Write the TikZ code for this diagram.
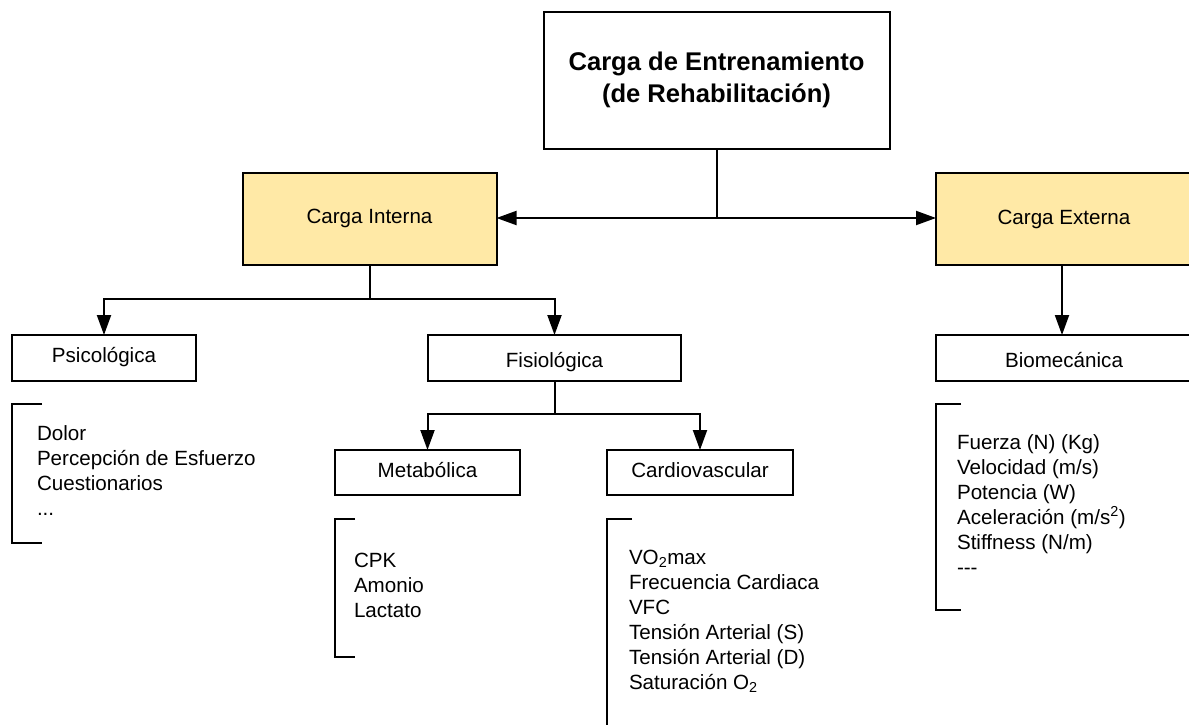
\documentclass[tikz,border=0pt]{standalone}
\usepackage{fontspec}
\setmainfont{Liberation Sans}
\usetikzlibrary{arrows.meta}
\definecolor{loadfill}{RGB}{255,233,166}
\begin{document}
\begin{tikzpicture}[x=1pt,y=-1pt,
  every node/.style={inner sep=0pt, outer sep=0pt},
  txt/.style={font=\fontsize{20.6}{25}\selectfont},
  box/.style={draw, line width=2pt, rectangle, txt, text height=14.8pt, text depth=0pt},
  raised/.style={text depth=#1},
  lowered/.style={text height=#1},
  loadbox/.style={box, fill=loadfill},
  itemtxt/.style={txt, anchor=base west},
  titletxt/.style={font=\fontsize{25.6}{32}\selectfont\bfseries, anchor=base},
  arr/.style={line width=2pt, -{Triangle[length=20pt,width=14pt]}},
  link/.style={line width=2pt},
  bracket/.style={line width=2pt},
]
\useasboundingbox (0,0) rectangle (1189,724);

% main box
\node[draw, line width=2pt, minimum width=346pt, minimum height=137pt] (top) at (716.5,80) {};
\node[titletxt] (ttl1) at (716.5,70) {Carga de Entrenamiento};
\node[titletxt] (ttl2) at (716.5,102) {(de Rehabilitación)};

% load types
\node[loadbox, raised=5pt, minimum width=254pt, minimum height=92pt] (ci) at (369.5,219) {Carga Interna};
\node[loadbox, raised=4pt, minimum width=256pt, minimum height=92pt] (ce) at (1064,219) {Carga Externa};

% second level
\node[box, raised=6pt, minimum width=184pt, minimum height=46pt] (psi) at (104,358) {Psicológica};
\node[box, lowered=18.8pt, minimum width=253pt, minimum height=46pt] (fis) at (554.5,358) {Fisiológica};
\node[box, lowered=18.8pt, minimum width=256pt, minimum height=46pt] (bio) at (1064,358) {Biomecánica};

% third level
\node[box, raised=4pt, minimum width=185pt, minimum height=45pt] (met) at (427.5,472.5) {Metabólica};
\node[box, raised=4pt, minimum width=186pt, minimum height=45pt] (car) at (700,472.5) {Cardiovascular};

% connectors
\coordinate (hub) at (716.5,218);
\draw[link] (top.south) -- (hub);
\draw[arr] (hub) -- (hub -| ci.east);
\draw[arr] (hub) -- (hub -| ce.west);

\coordinate (ciFork) at (369.5,299);
\draw[link] (ci.south) -- (ciFork);
\draw[arr] (ciFork) -| (psi.north);
\draw[arr] (ciFork) -| (fis.north);

\draw[arr] ([xshift=-2pt]ce.south) -- ([xshift=-2pt]bio.north);

\coordinate (fisFork) at (554.5,414);
\draw[link] (fis.south) -- (fisFork);
\draw[arr] (fisFork) -| (met.north);
\draw[arr] (fisFork) -| (car.north);

% brackets
\draw[bracket] (42,404) -| (12,543) -- (42,543);
\draw[bracket] (355,519) -| (335,657) -- (355,657);
\draw[bracket] (632,519) -| (607,740);
\draw[bracket] (961,404) -| (936,610) -- (961,610);

% item lists
\node[itemtxt] (psi1) at (37,440) {Dolor};
\node[itemtxt] (psi2) at (37,465) {Percepción de Esfuerzo};
\node[itemtxt] (psi3) at (37,490) {Cuestionarios};
\node[itemtxt] (psi4) at (37,515) {...};

\node[itemtxt] (met1) at (354,567) {CPK};
\node[itemtxt] (met2) at (354,592) {Amonio};
\node[itemtxt] (met3) at (354,617) {Lactato};

\node[itemtxt] (car1) at (629,564) {VO\textsubscript{2}max};
\node[itemtxt] (car2) at (629,589) {Frecuencia Cardiaca};
\node[itemtxt] (car3) at (629,614) {VFC};
\node[itemtxt] (car4) at (629,639) {Tensión Arterial (S)};
\node[itemtxt] (car5) at (629,664) {Tensión Arterial (D)};
\node[itemtxt] (car6) at (629,689) {Saturación O\textsubscript{2}};

\node[itemtxt] (bio1) at (957,449) {Fuerza (N) (Kg)};
\node[itemtxt] (bio2) at (957,474) {Velocidad (m/s)};
\node[itemtxt] (bio3) at (957,499) {Potencia (W)};
\node[itemtxt] (bio4) at (957,524) {Aceleración (m/s\textsuperscript{2})};
\node[itemtxt] (bio5) at (957,549) {Stiffness (N/m)};
\node[itemtxt] (bio6) at (957,574) {-{}-{}-};
\end{tikzpicture}
\end{document}
